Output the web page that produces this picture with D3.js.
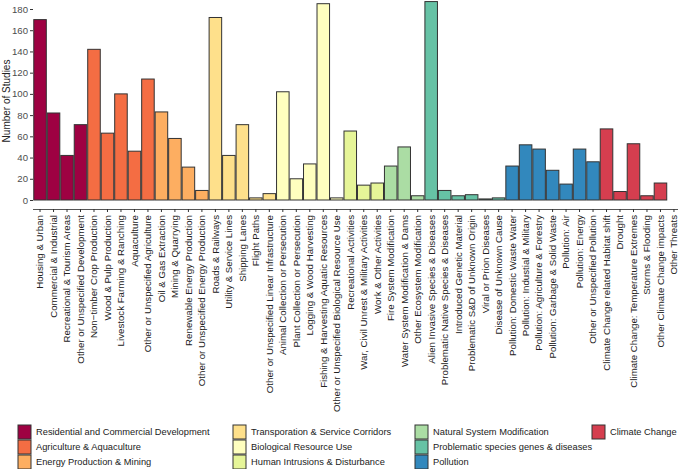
<!DOCTYPE html>
<html>
<head>
<meta charset="utf-8">
<script src="https://cdn.jsdelivr.net/npm/d3@7"></script>
<style>
  html, body { margin: 0; padding: 0; background: #fff; }
  svg { display: block; font-family: "Liberation Sans", Arial, sans-serif; }
</style>
</head>
<body>
<svg id="chart" width="685" height="469"></svg>
<script>
const categories = [
  "Housing & Urban", "Commercial & Industrial", "Recreational & Tourism Areas", "Other or Unspecified Development",
  "Non\u2212timber Crop Production", "Wood & Pulp Production", "Livestock Farming & Ranching", "Aquaculture", "Other or Unspecified Agriculture",
  "Oil & Gas Extraction", "Mining & Quarrying", "Renewable Energy Production", "Other or Unspecified Energy Production",
  "Roads & Railways", "Utility & Service Lines", "Shipping Lanes", "Flight Paths", "Other or Unspecified Linear Infrastructure",
  "Animal Collection or Persecution", "Plant Collection or Persecution", "Logging & Wood Harvesting", "Fishing & Harvesting Aquatic Resources", "Other or Unspecified Biological Resource Use",
  "Recreational Activities", "War, Civil Unrest & Military Activities", "Work & Other Activities",
  "Fire System Modification", "Water System Modification & Dams", "Other Ecosystem Modification",
  "Alien Invasive Species & Diseases", "Problematic Native Species & Diseases", "Introduced Genetic Material", "Problematic S&D of Unknown Origin", "Viral or Prion Diseases", "Disease of Unknown Cause",
  "Pollution: Domestic Waste Water", "Pollution: Industial & Military", "Pollution: Agriculture & Forestry", "Pollution: Garbage & Solid Waste", "Pollution: Air", "Pollution: Energy", "Other or Unspecified Pollution",
  "Climate Change related Habitat shift", "Drought", "Climate Change: Temperature Extremes", "Storms & Flooding", "Other Climate Change impacts",
  "Other Threats"
];
const studies = [
  170, 82, 42, 71,
  142, 63, 100, 46, 114,
  83, 58, 31, 9,
  172, 42, 71, 2, 6,
  102, 20, 34, 185, 2,
  65, 14, 16,
  32, 50, 4,
  187, 9, 4, 5, 1, 2,
  32, 52, 48, 28, 15, 48, 36,
  67, 8, 53, 4, 16,
  0
];
const groupOf = [
  0,0,0,0,
  1,1,1,1,1,
  2,2,2,2,
  3,3,3,3,3,
  4,4,4,4,4,
  5,5,5,
  6,6,6,
  7,7,7,7,7,7,
  8,8,8,8,8,8,8,
  9,9,9,9,9,
  10
];
const groups = [
  "Residential and Commercial Development", "Agriculture & Aquaculture", "Energy Production & Mining",
  "Transporation & Service Corridors", "Biological Resource Use", "Human Intrusions & Disturbance",
  "Natural System Modification", "Problematic species genes & diseases", "Pollution",
  "Climate Change", "Other Threats"
];
const groupColors = [
  "#9E0142", "#F46D43", "#FDAE61",
  "#FEE08B", "#FFFFBF", "#E6F598",
  "#ABDDA4", "#66C2A5", "#3288BD",
  "#D53E4F", "#999999"
];
const yTicks = [0, 20, 40, 60, 80, 100, 120, 140, 160, 180];
const yTitle = "Number of Studies";

const svg = d3.select("#chart");
const x = d3.scaleBand().domain(categories).range([33.3, 680.7]).paddingInner(0.07).paddingOuter(0.035);
const y = d3.scaleLinear().domain([0, 180]).range([200, 9]);

// Y axis (no domain line)
const yAxis = svg.append("g").attr("transform", "translate(33,0)")
  .call(d3.axisLeft(y).tickValues(yTicks).tickSize(3).tickPadding(2));
yAxis.select(".domain").remove();
yAxis.selectAll(".tick line").attr("stroke", "#333");
yAxis.selectAll(".tick text").attr("fill", "#4d4d4d").style("font-size", "9.6px");

// Y title
svg.append("text")
  .attr("x", 6)
  .attr("y", 101)
  .attr("transform", "rotate(-90 6 101)")
  .attr("text-anchor", "middle")
  .attr("dy", "0.35em")
  .attr("fill", "#222")
  .attr("font-size", 10)
  .text(yTitle);

// Bars
svg.append("g").selectAll("rect")
  .data(categories.map((c, i) => ({ c, v: studies[i], g: groupOf[i] })).filter(d => d.v > 0))
  .join("rect")
  .attr("x", d => x(d.c))
  .attr("y", d => y(d.v))
  .attr("width", x.bandwidth())
  .attr("height", d => y(0) - y(d.v))
  .attr("fill", d => groupColors[d.g])
  .attr("stroke", "#333")
  .attr("stroke-width", 1);

// X axis
const xAxis = svg.append("g").attr("transform", "translate(0,209)")
  .call(d3.axisBottom(x).tickSize(3).tickSizeOuter(0).tickPadding(2));
xAxis.select(".domain").attr("stroke", "#555").attr("d", "M33,0.5H678");
xAxis.selectAll(".tick line").attr("stroke", "#333");
xAxis.selectAll(".tick text")
  .attr("fill", "#222")
  .style("font-size", "9.7px")
  .attr("text-anchor", "end")
  .attr("transform", "rotate(-90)")
  .attr("x", -6)
  .attr("y", 0)
  .attr("dy", "0.35em");

// Legend
const legendCols = [18, 233, 415, 592];
const legendRowY = [425, 440, 455];
const legendItems = groups.slice(0, 10);
const lg = svg.append("g");
legendItems.forEach((name, i) => {
  const col = Math.floor(i / 3), row = i % 3;
  const gx = legendCols[col], gy = legendRowY[row];
  lg.append("rect").attr("x", gx).attr("y", gy).attr("width", 13).attr("height", 14)
    .attr("fill", groupColors[i]).attr("stroke", "#333").attr("stroke-width", 1);
  lg.append("text").attr("x", gx + 18).attr("y", gy + 7)
    .attr("dy", "0.35em")
    .style("font-size", "9.3px").attr("fill", "#222").text(name);
});
</script>
</body>
</html>
